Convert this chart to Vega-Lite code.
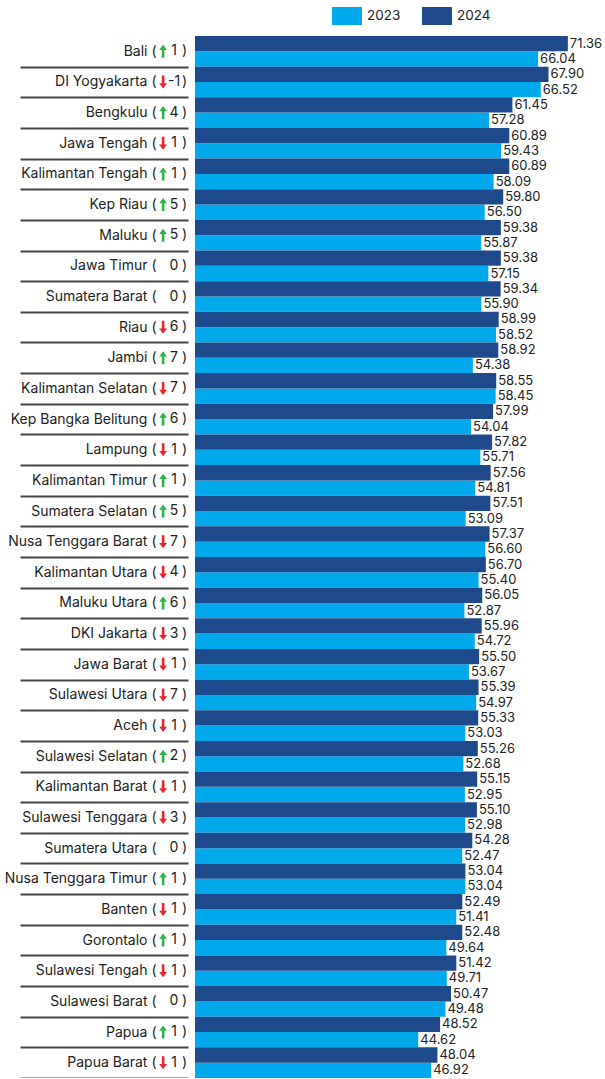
{
  "$schema": "https://vega.github.io/schema/vega-lite/v6.json",
  "width": 410,
  "height": 1042,
  "autosize": {"type": "none"},
  "padding": {"left": 195, "top": 36, "right": 0, "bottom": 0},
  "background": "white",
  "config": {"view": {"stroke": null}, "font": "Inter"},
  "data": {"values": [
    {"p": "Bali", "d": "up", "c": "1", "2024": 71.36, "2023": 66.04},
    {"p": "DI Yogyakarta", "d": "down", "c": "-1", "2024": 67.90, "2023": 66.52},
    {"p": "Bengkulu", "d": "up", "c": "4", "2024": 61.45, "2023": 57.28},
    {"p": "Jawa Tengah", "d": "down", "c": "1", "2024": 60.89, "2023": 59.43},
    {"p": "Kalimantan Tengah", "d": "up", "c": "1", "2024": 60.89, "2023": 58.09},
    {"p": "Kep Riau", "d": "up", "c": "5", "2024": 59.80, "2023": 56.50},
    {"p": "Maluku", "d": "up", "c": "5", "2024": 59.38, "2023": 55.87},
    {"p": "Jawa Timur", "d": "none", "c": "0", "2024": 59.38, "2023": 57.15},
    {"p": "Sumatera Barat", "d": "none", "c": "0", "2024": 59.34, "2023": 55.90},
    {"p": "Riau", "d": "down", "c": "6", "2024": 58.99, "2023": 58.52},
    {"p": "Jambi", "d": "up", "c": "7", "2024": 58.92, "2023": 54.38},
    {"p": "Kalimantan Selatan", "d": "down", "c": "7", "2024": 58.55, "2023": 58.45},
    {"p": "Kep Bangka Belitung", "d": "up", "c": "6", "2024": 57.99, "2023": 54.04},
    {"p": "Lampung", "d": "down", "c": "1", "2024": 57.82, "2023": 55.71},
    {"p": "Kalimantan Timur", "d": "up", "c": "1", "2024": 57.56, "2023": 54.81},
    {"p": "Sumatera Selatan", "d": "up", "c": "5", "2024": 57.51, "2023": 53.09},
    {"p": "Nusa Tenggara Barat", "d": "down", "c": "7", "2024": 57.37, "2023": 56.60},
    {"p": "Kalimantan Utara", "d": "down", "c": "4", "2024": 56.70, "2023": 55.40},
    {"p": "Maluku Utara", "d": "up", "c": "6", "2024": 56.05, "2023": 52.87},
    {"p": "DKI Jakarta", "d": "down", "c": "3", "2024": 55.96, "2023": 54.72},
    {"p": "Jawa Barat", "d": "down", "c": "1", "2024": 55.50, "2023": 53.67},
    {"p": "Sulawesi Utara", "d": "down", "c": "7", "2024": 55.39, "2023": 54.97},
    {"p": "Aceh", "d": "down", "c": "1", "2024": 55.33, "2023": 53.03},
    {"p": "Sulawesi Selatan", "d": "up", "c": "2", "2024": 55.26, "2023": 52.68},
    {"p": "Kalimantan Barat", "d": "down", "c": "1", "2024": 55.15, "2023": 52.95},
    {"p": "Sulawesi Tenggara", "d": "down", "c": "3", "2024": 55.10, "2023": 52.98},
    {"p": "Sumatera Utara", "d": "none", "c": "0", "2024": 54.28, "2023": 52.47},
    {"p": "Nusa Tenggara Timur", "d": "up", "c": "1", "2024": 53.04, "2023": 53.04},
    {"p": "Banten", "d": "down", "c": "1", "2024": 52.49, "2023": 51.41},
    {"p": "Gorontalo", "d": "up", "c": "1", "2024": 52.48, "2023": 49.64},
    {"p": "Sulawesi Tengah", "d": "down", "c": "1", "2024": 51.42, "2023": 49.71},
    {"p": "Sulawesi Barat", "d": "none", "c": "0", "2024": 50.47, "2023": 49.48},
    {"p": "Papua", "d": "up", "c": "1", "2024": 48.52, "2023": 44.62},
    {"p": "Papua Barat", "d": "down", "c": "1", "2024": 48.04, "2023": 46.92}
  ]},
  "transform": [{"fold": ["2023", "2024"], "as": ["year", "value"]}],
  "encoding": {
    "y": {
      "field": "p", "type": "nominal", "sort": null,
      "scale": {"paddingInner": 0, "paddingOuter": 0},
      "axis": {
        "title": null, "domain": false, "ticks": true,
        "tickSize": 168, "tickWidth": 2, "tickColor": "#444444",
        "tickOffset": 15.32, "labelOffset": -15.32, "offset": 7,
        "labelPadding": -136, "labelFont": "Inter", "labelFontSize": 14,
        "labelColor": "#222222", "labelLimit": 200, "labelOverlap": false,
        "labelExpr": "datum.label + ' ('"
      }
    }
  },
  "layer": [
    {
      "mark": {"type": "bar", "clip": true},
      "encoding": {
        "x": {"field": "value", "type": "quantitative", "scale": {"domain": [4.7, 78.0], "zero": false, "nice": false}, "axis": null},
        "yOffset": {"field": "year", "type": "nominal", "sort": ["2024", "2023"], "scale": {"paddingInner": 0, "paddingOuter": 0}},
        "color": {
          "field": "year", "type": "nominal",
          "scale": {"domain": ["2023", "2024"], "range": ["#00A9EC", "#1E4A8C"]},
          "legend": {
            "title": null, "orient": "none", "legendX": 137, "legendY": -35,
            "direction": "horizontal", "symbolType": "M-1,-0.6H1V0.6H-1Z",
            "symbolSize": 900, "symbolStrokeWidth": 0, "labelFont": "Inter",
            "labelFontSize": 13.5, "labelColor": "#222222", "columnPadding": 21,
            "labelOffset": 5, "padding": 0
          }
        }
      }
    },
    {
      "mark": {"type": "text", "align": "left", "baseline": "middle", "dx": 2, "fontSize": 13, "color": "#222222"},
      "encoding": {
        "x": {"field": "value", "type": "quantitative"},
        "yOffset": {"field": "year", "type": "nominal", "sort": ["2024", "2023"]},
        "text": {"field": "value", "type": "quantitative", "format": ".2f"}
      }
    },
    {
      "mark": {"type": "point", "filled": true, "size": 169, "strokeWidth": 0},
      "encoding": {
        "x": {"datum": -1},
        "shape": {"condition": {"test": "datum.d == 'up'", "value": "M0,-1L0.6,-0.2L0.2,-0.2L0.2,1L-0.2,1L-0.2,-0.2L-0.6,-0.2Z"}, "value": "M0,1L0.6,0.2L0.2,0.2L0.2,-1L-0.2,-1L-0.2,0.2L-0.6,0.2Z"},
        "fill": {"condition": {"test": "datum.d == 'up'", "value": "#2DB34A"}, "value": "#E8262B"},
        "opacity": {"condition": {"test": "datum.year == '2024' && datum.d != 'none'", "value": 1}, "value": 0}
      }
    },
    {
      "mark": {"type": "text", "align": "center", "baseline": "middle", "dx": -21, "fontSize": 14, "color": "#222222"},
      "encoding": {
        "x": {"datum": 4.7},
        "text": {"field": "c"},
        "opacity": {"condition": {"test": "datum.year == '2024'", "value": 1}, "value": 0}
      }
    },
    {
      "mark": {"type": "text", "align": "right", "baseline": "middle", "dx": -8, "fontSize": 14, "color": "#222222", "text": ")"},
      "encoding": {
        "x": {"datum": 4.7},
        "opacity": {"condition": {"test": "datum.year == '2024'", "value": 1}, "value": 0}
      }
    }
  ]
}
